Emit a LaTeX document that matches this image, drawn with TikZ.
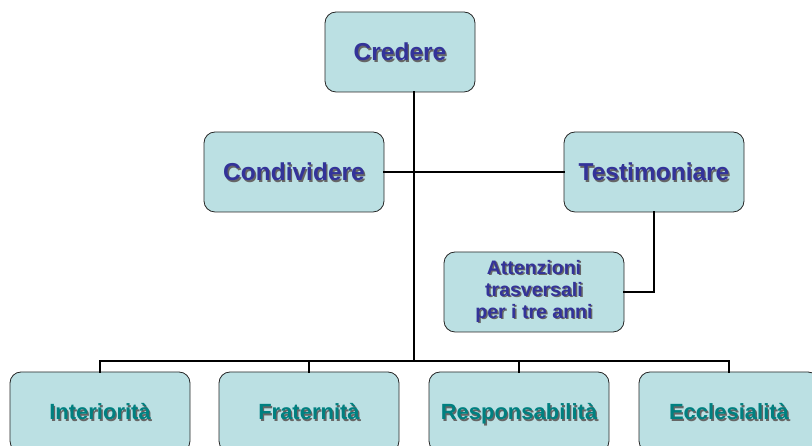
\documentclass[tikz,border=0pt]{standalone}
\usepackage{fontspec}
\setmainfont{Liberation Sans}
\usepackage{tikz}
\definecolor{boxfill}{HTML}{BBE0E3}
\definecolor{topink}{HTML}{333399}
\definecolor{lowink}{HTML}{008080}
\newcommand{\shtext}[2]{\makebox[0pt][l]{\hspace{1.4pt}\raisebox{-1.4pt}{\color{black!60}#2}}{\color{#1}#2}}

\begin{document}
\begin{tikzpicture}[x=1pt,y=1pt,
  orgbox/.style={draw=black!85,line width=0.8pt,fill=boxfill,rounded corners=11pt,
    minimum width=180pt,minimum height=80pt,inner sep=0pt,font=\bfseries},
  topbox/.style={orgbox,font=\bfseries\fontsize{24.5}{28}\selectfont,text height=17.5pt,text depth=0pt},
  lowbox/.style={orgbox,font=\bfseries\fontsize{22}{26}\selectfont,text height=15.8pt,text depth=0pt},
  link/.style={line width=2.8pt,line cap=rect}]
  \useasboundingbox (0,0) rectangle (812,446);

  \node[topbox,minimum width=150pt] (cred) at (400,394) {\shtext{topink}{Credere}};
  \node[topbox] (cond) at (294,274) {\shtext{topink}{Condividere}};
  \node[topbox] (testi) at (654,274) {\shtext{topink}{Testimoniare}};
  \node[orgbox,align=center,font=\bfseries\fontsize{19.5}{22}\selectfont] (att) at (534,154)
    {\shtext{topink}{Attenzioni}\\\shtext{topink}{trasversali}\\\shtext{topink}{per i tre anni}};

  \node[lowbox] (inter) at (100,34) {\shtext{lowink}{Interiorità}};
  \node[lowbox] (frat) at (309,34) {\shtext{lowink}{Fraternità}};
  \node[lowbox] (resp) at (519,34) {\shtext{lowink}{Responsabilità}};
  \node[lowbox] (eccl) at (729,34) {\shtext{lowink}{Ecclesialità}};

  % connectors
  \coordinate (hub) at (414,85);
  \draw[link] (cred.south -| hub) -- (hub);
  \draw[link] (cond.east) -- (testi.west);
  \draw[link] (testi.south) |- (att.east);
  \draw[link] (inter.north) |- (eccl.north |- hub) -- (eccl.north);
  \draw[link] (frat.north) -- (frat.north |- hub);
  \draw[link] (resp.north) -- (resp.north |- hub);
\end{tikzpicture}
\end{document}
